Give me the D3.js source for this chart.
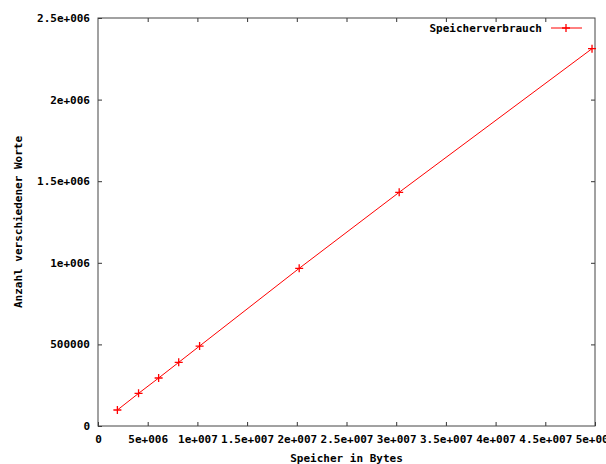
<!DOCTYPE html>
<html>
<head>
<meta charset="utf-8">
<script src="https://cdn.jsdelivr.net/npm/d3@7"></script>
<style>
  body { margin: 0; background: #fff; }
  text { font-family: "DejaVu Sans Mono", monospace; font-size: 11px; font-weight: bold; fill: #000; }
</style>
</head>
<body>
<div id="chart"></div>
<script>
// Speicher (Bytes) vs. Anzahl verschiedener Worte
const bytes = [1.95e6, 4.08e6, 6.1e6, 8.12e6, 1.022e7, 2.024e7, 3.03e7, 4.97e7];
const words = [98000, 200000, 294000, 390000, 490000, 966000, 1432000, 2312000];
const xTicks = [0, 5e6, 1e7, 1.5e7, 2e7, 2.5e7, 3e7, 3.5e7, 4e7, 4.5e7, 5e7];
const xTickLabels = ["0", "5e+006", "1e+007", "1.5e+007", "2e+007", "2.5e+007", "3e+007", "3.5e+007", "4e+007", "4.5e+007", "5e+007"];
const yTicks = [0, 500000, 1e6, 1.5e6, 2e6, 2.5e6];
const yTickLabels = ["0", "500000", "1e+006", "1.5e+006", "2e+006", "2.5e+006"];

const width = 606, height = 464;
const margin = {left: 98, right: 11, top: 18, bottom: 38};

const svg = d3.select("#chart").append("svg")
    .attr("width", width)
    .attr("height", height);

const x = d3.scaleLinear().domain([0, 5e7]).range([margin.left, width - margin.right]);
const y = d3.scaleLinear().domain([0, 2.5e6]).range([height - margin.bottom, margin.top]);

const tick = 4;

// bottom + top axes, ticks pointing inward
svg.append("g")
    .attr("transform", "translate(0," + y(0) + ")")
    .call(d3.axisBottom(x).tickValues(xTicks).tickSize(-tick).tickPadding(9)
        .tickFormat((d, i) => xTickLabels[i]))
    .call(g => g.select(".domain").remove());

svg.append("g")
    .attr("transform", "translate(0," + y(2.5e6) + ")")
    .call(d3.axisTop(x).tickValues(xTicks.slice(1, -1)).tickSize(-tick).tickFormat(""))
    .call(g => g.select(".domain").remove());

// left + right axes
svg.append("g")
    .attr("transform", "translate(" + x(0) + ",0)")
    .call(d3.axisLeft(y).tickValues(yTicks).tickSize(-tick).tickPadding(8)
        .tickFormat((d, i) => yTickLabels[i]))
    .call(g => g.select(".domain").remove());

svg.append("g")
    .attr("transform", "translate(" + x(5e7) + ",0)")
    .call(d3.axisRight(y).tickValues(yTicks.slice(1, -1)).tickSize(-tick).tickFormat(""))
    .call(g => g.select(".domain").remove());

svg.selectAll(".tick line").attr("stroke", "#333");
svg.selectAll(".tick text").style("font-size", "11px").style("font-family", "DejaVu Sans Mono").style("font-weight", "bold");

// border
svg.append("rect")
    .attr("x", x(0))
    .attr("y", y(2.5e6))
    .attr("width", x(5e7) - x(0))
    .attr("height", y(0) - y(2.5e6))
    .attr("fill", "none")
    .attr("stroke", "#444");

// data line
const line = d3.line()
    .x((d, i) => x(bytes[i]))
    .y(d => y(d));

svg.append("path")
    .datum(words)
    .attr("d", line)
    .attr("fill", "none")
    .attr("stroke", "#ff0000")
    .attr("stroke-width", 1);

const plus = (g, cx, cy) => {
    g.append("path")
        .attr("d", "M" + (cx - 4) + "," + cy + "H" + (cx + 4) + "M" + cx + "," + (cy - 4) + "V" + (cy + 4))
        .attr("stroke", "#ff0000")
        .attr("stroke-width", 1.3);
};

const marks = svg.append("g");
words.forEach((d, i) => plus(marks, x(bytes[i]), y(d)));

// legend
const legend = svg.append("g");
legend.append("text")
    .attr("x", 542)
    .attr("y", 32)
    .attr("text-anchor", "end")
    .text("Speicherverbrauch");
legend.append("line")
    .attr("x1", 551).attr("x2", 582)
    .attr("y1", 28).attr("y2", 28)
    .attr("stroke", "#ff0000");
plus(legend, 566, 28);

// axis titles
svg.append("text")
    .attr("x", (x(0) + x(5e7)) / 2)
    .attr("y", 462)
    .attr("text-anchor", "middle")
    .text("Speicher in Bytes");

svg.append("text")
    .attr("transform", "translate(22," + ((y(0) + y(2.5e6)) / 2) + ") rotate(-90)")
    .attr("text-anchor", "middle")
    .text("Anzahl verschiedener Worte");
</script>
</body>
</html>
